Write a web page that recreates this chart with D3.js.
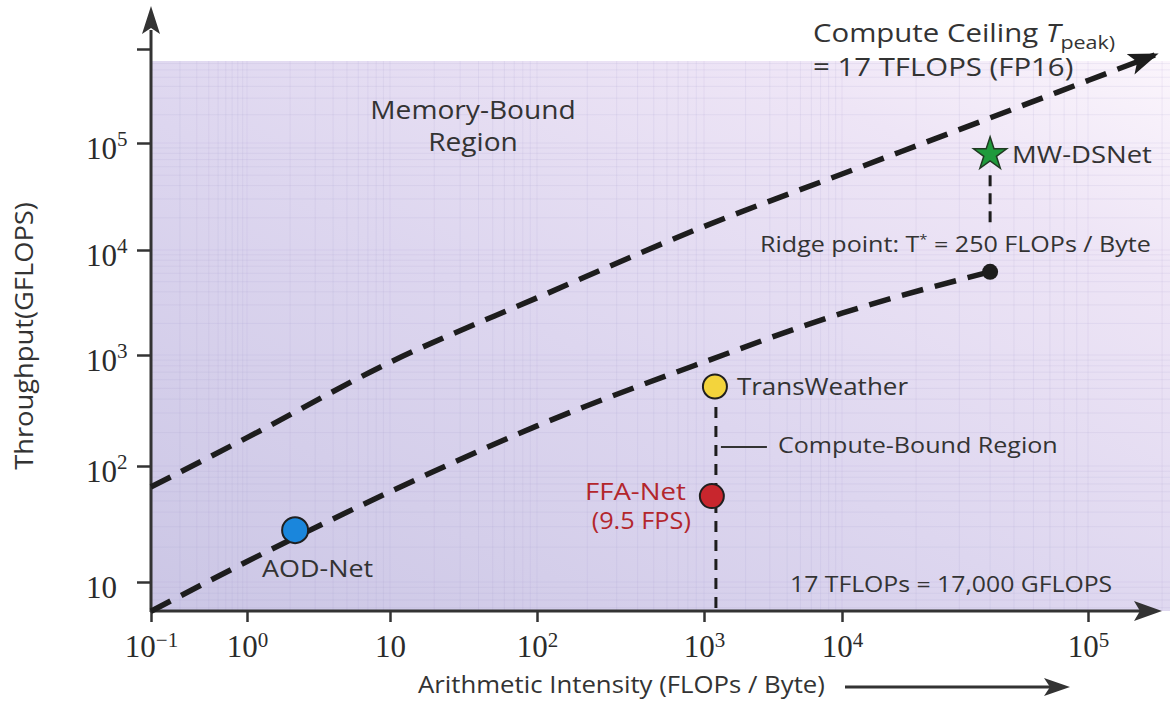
<!DOCTYPE html>
<html>
<head>
<meta charset="utf-8">
<script src="https://cdn.jsdelivr.net/npm/d3@7"></script>
<style>
  body { margin: 0; background: #ffffff; }
  svg { display: block; }
  text { font-family: "Open Sans", "Noto Sans", sans-serif; fill: #333; }
  .tick-label { font-family: "Liberation Serif", "DejaVu Serif", serif; fill: #2b2b2b; }
</style>
</head>
<body>
<svg id="chart" width="1170" height="702"></svg>
<script>
// ---- Axis ticks ----
const xTickValues = [0.1, 1, 10, 100, 1000, 1e4, 1e5];
const xTickExponents = ["\u22121", "0", "", "2", "3", "4", "5"];
const yTickValues = [10, 100, 1000, 1e4, 1e5, 1e6];
const yTickExponents = ["", "2", "3", "4", "5", null]; // null: tick without label

// ---- Roofline curves (FLOPs/Byte -> GFLOPS) ----
const ceilingIntensity = [0.1, 1, 10, 100, 1000, 1e4, 4e4, 1e5, 1.87e5];
const ceilingThroughput = [66, 180, 860, 3500, 16600, 51300, 185000, 462000, 863000];
const roofIntensity = [0.1, 1, 10, 100, 1000, 1e4, 4e4];
const roofThroughput = [5.6, 15, 60, 230, 865, 2500, 6200];

// ---- Ridge point ----
const ridgeIntensity = 4e4;
const ridgeThroughput = 6200;

// ---- Models ----
const modelNames = ["AOD-Net", "FFA-Net", "TransWeather", "MW-DSNet"];
const modelIntensity = [2.17, 1140, 1200, 4e4];
const modelThroughput = [28, 55, 520, 82000];
const modelColors = ["#1a86dc", "#c8262d", "#f3d43c", "#1f9a3c"];

// ---- Guide lines ----
const computeGuideIntensity = 1220;
const computeGuideTop = 340;
const ridgeGuideIntensity = 4e4;
const ridgeGuideThroughput = [50000, 17800];

const svg = d3.select("#chart");

// Piecewise log scales (each decade has its own span on the page)
const x = d3.scaleLog()
  .domain(xTickValues)
  .range([151, 247, 390, 537, 704, 842, 1088]);
const y = d3.scaleLog()
  .domain(yTickValues)
  .range([582, 466, 355, 250, 143, 49]);

const plotLeft = x(0.1), plotBottom = 611, plotTop = 61, plotRight = 1170;

// ---- Background ----
const defs = svg.append("defs");
const grad = defs.append("linearGradient")
  .attr("id", "bg").attr("x1", "0").attr("y1", "1").attr("x2", "1").attr("y2", "0");
grad.append("stop").attr("offset", "0").attr("stop-color", "#cbc6e5");
grad.append("stop").attr("offset", "0.45").attr("stop-color", "#ddd6ef");
grad.append("stop").attr("offset", "0.8").attr("stop-color", "#eee5f6");
grad.append("stop").attr("offset", "1").attr("stop-color", "#fbf5fc");

svg.append("rect")
  .attr("x", plotLeft).attr("y", plotTop)
  .attr("width", plotRight - plotLeft).attr("height", plotBottom - plotTop)
  .attr("fill", "url(#bg)");

// Faint minor grid
const gridG = svg.append("g").attr("stroke", "#9a90c8").attr("stroke-opacity", 0.13).attr("stroke-width", 1);
const xMinor = d3.scaleLog().domain([0.1, 2e5]).ticks(60);
const yMinor = d3.scaleLog().domain([5, 8e5]).ticks(60);
gridG.selectAll("line.vx").data(xMinor.filter(d => x(d) > plotLeft + 1 && x(d) < plotRight))
  .join("line").attr("class", "vx")
  .attr("x1", d => x(d)).attr("x2", d => x(d))
  .attr("y1", plotTop).attr("y2", plotBottom);
gridG.selectAll("line.hy").data(yMinor.filter(d => y(d) > plotTop && y(d) < plotBottom - 1))
  .join("line").attr("class", "hy")
  .attr("y1", d => y(d)).attr("y2", d => y(d))
  .attr("x1", plotLeft).attr("x2", plotRight);

// ---- Axes ----
const axisColor = "#333";
const xAxis = svg.append("g")
  .attr("transform", `translate(0,${plotBottom})`)
  .call(d3.axisBottom(x).tickValues(xTickValues).tickSize(11).tickFormat(""));
const yAxis = svg.append("g")
  .attr("transform", `translate(${plotLeft},0)`)
  .call(d3.axisLeft(y).tickValues(yTickValues).tickSize(14).tickFormat(""));
[xAxis, yAxis].forEach(a => {
  a.select(".domain").remove();
  a.selectAll(".tick line").attr("stroke", axisColor).attr("stroke-width", 2.5);
});

// Axis lines with arrowheads
svg.append("line")
  .attr("x1", plotLeft - 1).attr("x2", 1140).attr("y1", plotBottom).attr("y2", plotBottom)
  .attr("stroke", axisColor).attr("stroke-width", 3);
svg.append("path")
  .attr("d", `M1162,${plotBottom} L1134,${plotBottom - 10} L1140,${plotBottom} L1134,${plotBottom + 10} Z`)
  .attr("fill", axisColor);
svg.append("line")
  .attr("x1", plotLeft).attr("x2", plotLeft).attr("y1", plotBottom + 1).attr("y2", 30)
  .attr("stroke", axisColor).attr("stroke-width", 3);
svg.append("path")
  .attr("d", `M${plotLeft},6 L${plotLeft - 9},34 L${plotLeft},28 L${plotLeft + 9},34 Z`)
  .attr("fill", axisColor);

// Tick labels: powers of ten
xAxis.selectAll(".tick").each(function(d, i) {
  const t = d3.select(this).append("text")
    .attr("class", "tick-label")
    .attr("y", 46).attr("text-anchor", "middle")
    .attr("font-size", 31);
  t.append("tspan").text("10");
  if (xTickExponents[i]) {
    t.append("tspan").attr("dy", -10).attr("font-size", 21).text(xTickExponents[i]);
  }
});
yAxis.selectAll(".tick").each(function(d, i) {
  if (yTickExponents[i] === null) return;
  const g = d3.select(this);
  g.append("text").attr("class", "tick-label")
    .attr("x", -34).attr("y", 15).attr("text-anchor", "end")
    .attr("font-size", 31).text("10");
  if (yTickExponents[i]) {
    g.append("text").attr("class", "tick-label")
      .attr("x", -34).attr("y", 2).attr("text-anchor", "start")
      .attr("font-size", 21).text(yTickExponents[i]);
  }
});

// Text helper: wide humanist lettering (slight horizontal stretch)
function label(xx, yy, size, sx, txt, anchor = "start", color = "#333") {
  return svg.append("text")
    .attr("transform", `translate(${xx},${yy}) scale(${sx},1)`)
    .attr("font-size", size).attr("text-anchor", anchor)
    .style("fill", color).text(txt);
}

// Axis titles
svg.append("text")
  .attr("transform", "translate(33,336) rotate(-90) scale(1.05,1)")
  .attr("text-anchor", "middle").attr("font-size", 26)
  .text("Throughput(GFLOPS)");
label(418, 693, 23, 1.12, "Arithmetic Intensity (FLOPs / Byte)");
svg.append("line")
  .attr("x1", 845).attr("x2", 1050).attr("y1", 687).attr("y2", 687)
  .attr("stroke", axisColor).attr("stroke-width", 3);
svg.append("path")
  .attr("d", "M1070,687 L1044,678 L1050,687 L1044,696 Z")
  .attr("fill", axisColor);

// ---- Roofline curves ----
const line = d3.line().x(d => x(d[0])).y(d => y(d[1])).curve(d3.curveMonotoneX);

defs.append("marker")
  .attr("id", "arrow").attr("markerUnits", "userSpaceOnUse")
  .attr("viewBox", "0 0 30 24").attr("refX", 26).attr("refY", 12)
  .attr("markerWidth", 30).attr("markerHeight", 24).attr("orient", "auto")
  .append("path").attr("d", "M0,1 L30,12 L0,23 L7,12 Z").attr("fill", "#1d1d1d");

svg.append("path")
  .datum(d3.zip(ceilingIntensity, ceilingThroughput))
  .attr("d", line)
  .attr("fill", "none").attr("stroke", "#1d1d1d").attr("stroke-width", 5.5)
  .attr("stroke-dasharray", "22 12")
  .attr("marker-end", "url(#arrow)");

svg.append("path")
  .datum(d3.zip(roofIntensity, roofThroughput))
  .attr("d", line)
  .attr("fill", "none").attr("stroke", "#1d1d1d").attr("stroke-width", 5.5)
  .attr("stroke-dasharray", "22 12");

// Vertical guides
svg.append("line")
  .attr("x1", x(computeGuideIntensity)).attr("x2", x(computeGuideIntensity))
  .attr("y1", y(computeGuideTop)).attr("y2", plotBottom - 2)
  .attr("stroke", "#1d1d1d").attr("stroke-width", 3).attr("stroke-dasharray", "11 8");
svg.append("line")
  .attr("x1", x(ridgeGuideIntensity)).attr("x2", x(ridgeGuideIntensity))
  .attr("y1", y(ridgeGuideThroughput[0])).attr("y2", y(ridgeGuideThroughput[1]))
  .attr("stroke", "#1d1d1d").attr("stroke-width", 3).attr("stroke-dasharray", "11 7");

// Leader for the compute-bound label
svg.append("line")
  .attr("x1", x(computeGuideIntensity) + 5).attr("x2", x(computeGuideIntensity) + 51)
  .attr("y1", 447).attr("y2", 447)
  .attr("stroke", "#333").attr("stroke-width", 2);

// Ridge point
svg.append("circle")
  .attr("cx", x(ridgeIntensity)).attr("cy", y(ridgeThroughput)).attr("r", 8)
  .attr("fill", "#1d1d1d");

// ---- Model markers ----
const models = modelNames.map((n, i) => ({
  name: n, ai: modelIntensity[i], tp: modelThroughput[i], color: modelColors[i]
}));
svg.selectAll("circle.model")
  .data(models.filter(m => m.name !== "MW-DSNet"))
  .join("circle").attr("class", "model")
  .attr("cx", d => x(d.ai)).attr("cy", d => y(d.tp))
  .attr("r", d => d.name === "AOD-Net" ? 13 : 12)
  .attr("fill", d => d.color).attr("stroke", "#1f1f1f").attr("stroke-width", 2);

const star = d3.symbol().type(d3.symbolStar).size(340);
svg.selectAll("path.star")
  .data(models.filter(m => m.name === "MW-DSNet"))
  .join("path").attr("class", "star")
  .attr("transform", d => `translate(${x(d.ai)},${y(d.tp) + 2})`)
  .attr("d", star)
  .attr("fill", d => d.color).attr("stroke", "#1f3a22").attr("stroke-width", 1.5);

// ---- Annotations ----
label(473, 119, 25, 1.125, "Memory-Bound", "middle");
label(473, 151, 25, 1.125, "Region", "middle");

const cc = svg.append("text")
  .attr("transform", "translate(813,42) scale(1.13,1)").attr("font-size", 26);
cc.append("tspan").text("Compute Ceiling ");
cc.append("tspan").attr("font-style", "italic").text("T");
cc.append("tspan").attr("dy", 7).attr("font-size", 19).text("peak)");
label(813, 76, 26, 1.13, "= 17 TFLOPS (FP16)");

const aod = models[0], ffa = models[1], tw = models[2], mw = models[3];
label(x(mw.ai) + 22, y(mw.tp) + 11, 24, 1.145, "MW-DSNet");

const rp = svg.append("text")
  .attr("transform", "translate(760,252) scale(1.14,1)").attr("font-size", 22);
rp.append("tspan").text("Ridge point: T");
rp.append("tspan").attr("dy", -8).attr("font-size", 13).text("*");
rp.append("tspan").attr("dy", 8).text(" = 250 FLOPs / Byte");

label(x(tw.ai) + 22, y(tw.tp) + 8, 23, 1.13, "TransWeather");
label(778, 453, 22, 1.14, "Compute-Bound Region");
label(x(ffa.ai) - 26, y(ffa.tp) + 4, 24, 1.15, "FFA-Net", "end", "#b3262c");
label(x(ffa.ai) - 21, y(ffa.tp) + 33, 23, 1.1, "(9.5 FPS)", "end", "#b3262c");
label(x(aod.ai) - 33, y(aod.tp) + 47, 23, 1.17, "AOD-Net");
label(790, 592, 21, 1.18, "17 TFLOPs = 17,000 GFLOPS");
</script>
</body>
</html>
